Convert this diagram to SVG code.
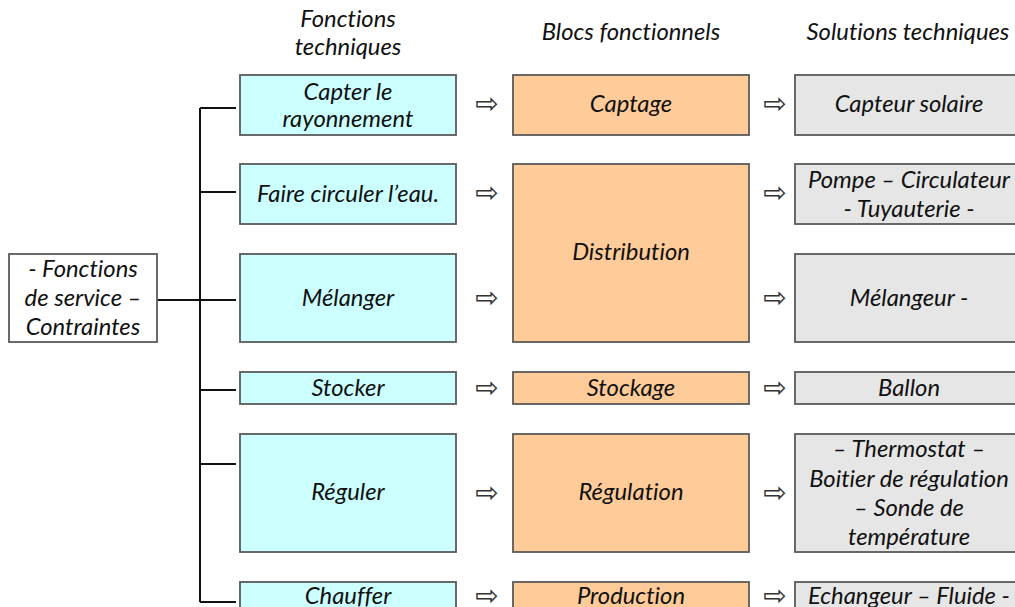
<svg xmlns="http://www.w3.org/2000/svg" width="1015" height="607" viewBox="0 0 1015 607">
<style>
text{font-family:Lato,"Liberation Sans",sans-serif;font-style:italic;font-size:23.8px;fill:#111;text-anchor:middle;font-variant-ligatures:none}
.ft{fill:#ccffff;stroke:#5a5a5a;stroke-width:1.8}
.bf{fill:#ffcc99;stroke:#5a5a5a;stroke-width:1.8}
.st{fill:#e6e6e6;stroke:#5a5a5a;stroke-width:1.8}
.fs{fill:#fff;stroke:#5a5a5a;stroke-width:1.8}
.ln{stroke:#111;stroke-width:2;fill:none}
.ar{font-family:"DejaVu Sans",sans-serif;font-style:normal;font-size:28px;fill:#333}
</style>
<rect width="1015" height="607" fill="#fff"/>
<g id="headers">
<text x="348" y="27">Fonctions</text>
<text x="348" y="55">techniques</text>
<text x="631" y="40">Blocs fonctionnels</text>
<text x="908" y="40">Solutions techniques</text>
</g>
<g id="connectors">
<path class="ln" d="M200,108V602M200,108H236M200,192H236M157,300H236M200,390H236M200,464H236M200,602H236"/>
</g>
<g id="arrows">
<text class="ar" x="487" y="113">⇨</text>
<text class="ar" x="487" y="202">⇨</text>
<text class="ar" x="487" y="307">⇨</text>
<text class="ar" x="487" y="397">⇨</text>
<text class="ar" x="487" y="502">⇨</text>
<text class="ar" x="487" y="605">⇨</text>
<text class="ar" x="775" y="113">⇨</text>
<text class="ar" x="775" y="202">⇨</text>
<text class="ar" x="775" y="307">⇨</text>
<text class="ar" x="775" y="397">⇨</text>
<text class="ar" x="775" y="502">⇨</text>
<text class="ar" x="775" y="605">⇨</text>
</g>
<g id="fs"><rect class="fs" x="9" y="254" width="148" height="88"/><text x="83" y="277">- Fonctions</text><text x="83" y="306">de service –</text><text x="83" y="335">Contraintes</text></g>
<g id="ft1"><rect class="ft" x="240" y="75" width="216" height="60"/><text x="348" y="100">Capter le</text><text x="348" y="127">rayonnement</text></g>
<g id="ft2"><rect class="ft" x="240" y="164" width="216" height="60"/><text x="348" y="202">Faire circuler l’eau.</text></g>
<g id="ft3"><rect class="ft" x="240" y="254" width="216" height="88"/><text x="348" y="306">Mélanger</text></g>
<g id="ft4"><rect class="ft" x="240" y="372" width="216" height="32"/><text x="348" y="396">Stocker</text></g>
<g id="ft5"><rect class="ft" x="240" y="434" width="216" height="118"/><text x="348" y="500">Réguler</text></g>
<g id="ft6"><rect class="ft" x="240" y="582" width="216" height="60"/><text x="348" y="604">Chauffer</text></g>
<g id="bf1"><rect class="bf" x="513" y="75" width="236" height="60"/><text x="631" y="112">Captage</text></g>
<g id="bf2"><rect class="bf" x="513" y="164" width="236" height="178"/><text x="631" y="260">Distribution</text></g>
<g id="bf3"><rect class="bf" x="513" y="372" width="236" height="32"/><text x="631" y="396">Stockage</text></g>
<g id="bf4"><rect class="bf" x="513" y="434" width="236" height="118"/><text x="631" y="500">Régulation</text></g>
<g id="bf5"><rect class="bf" x="513" y="582" width="236" height="60"/><text x="631" y="604">Production</text></g>
<g id="st1"><rect class="st" x="795" y="75" width="228" height="60"/><text x="909" y="112">Capteur solaire</text></g>
<g id="st2"><rect class="st" x="795" y="164" width="228" height="60"/><text x="909" y="188">Pompe – Circulateur</text><text x="909" y="217">- Tuyauterie -</text></g>
<g id="st3"><rect class="st" x="795" y="254" width="228" height="88"/><text x="909" y="306">Mélangeur -</text></g>
<g id="st4"><rect class="st" x="795" y="372" width="228" height="32"/><text x="909" y="396">Ballon</text></g>
<g id="st5"><rect class="st" x="795" y="434" width="228" height="118"/><text x="909" y="457">– Thermostat –</text><text x="909" y="487">Boitier de régulation</text><text x="909" y="516">– Sonde de</text><text x="909" y="545">température</text></g>
<g id="st6"><rect class="st" x="795" y="582" width="228" height="60"/><text x="909" y="604">Echangeur – Fluide -</text></g>
</svg>
